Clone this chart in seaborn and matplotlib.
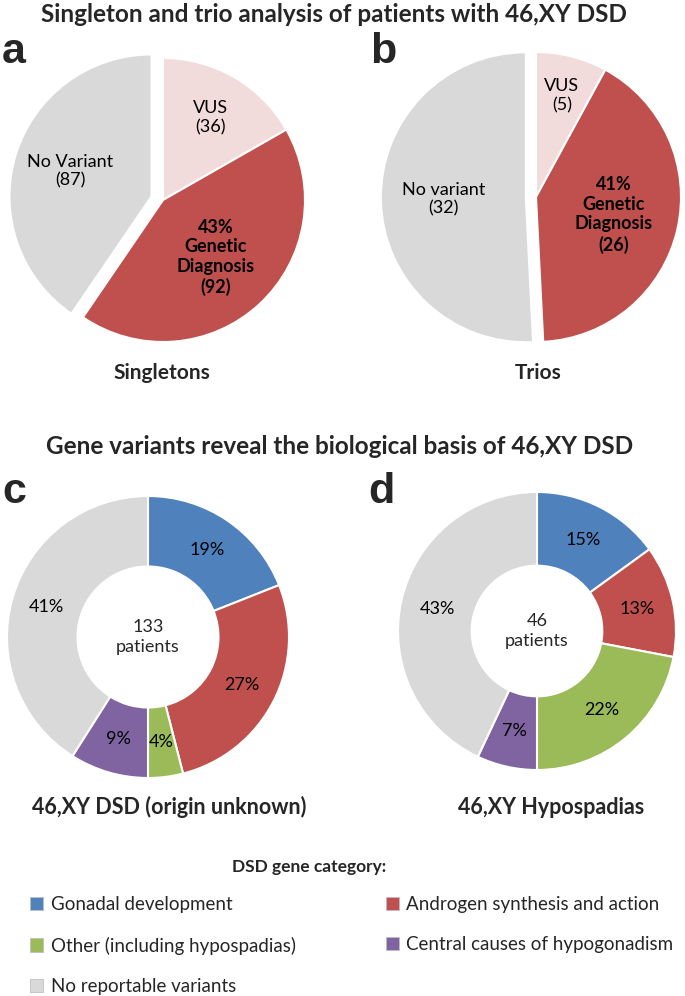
import numpy as np
import matplotlib
matplotlib.use("Agg")
import matplotlib.pyplot as plt
from matplotlib.patches import Patch
import seaborn as sns

# ─── Data ────────────────────────────────────────────────────────────────────
outcome_labels = ["VUS", "Genetic Diagnosis", "No Variant"]
singleton_counts = [36, 92, 87]
trio_counts = [5, 26, 32]

gene_categories = [
    "Gonadal development",
    "Androgen synthesis and action",
    "Other (including hypospadias)",
    "Central causes of hypogonadism",
    "No reportable variants",
]
unknown_pct = [19, 27, 4, 9, 41]
hypospadias_pct = [15, 13, 22, 7, 43]
unknown_n = 133
hypospadias_n = 46

# ─── Style ───────────────────────────────────────────────────────────────────
W, H = 685, 996
sns.set_theme(style="white")
plt.rcParams["font.family"] = ["Lato", "DejaVu Sans"]

outcome_colors = ["#F2DCDB", "#C0504D", "#D9D9D9"]
gene_colors = ["#4F81BD", "#C0504D", "#9BBB59", "#8064A2", "#D9D9D9"]

fig = plt.figure(figsize=(W / 100, H / 100), dpi=100)

K = 1.3  # axes half-size relative to pie radius


def px_axes(cx, cy, r):
    """Axes centred on pixel (cx, cy) where the pie radius is r px."""
    ax = fig.add_axes([(cx - r * K) / W, (H - cy - r * K) / H,
                       2 * r * K / W, 2 * r * K / H])
    return ax


def fig_text(x, y, s, **kw):
    fig.text(x / W, 1 - y / H, s, ha="center", va="center", **kw)


def draw_outcome_pie(ax, counts, explode, dists, no_variant_name):
    total = sum(counts)
    wedges, _ = ax.pie(counts, colors=outcome_colors, startangle=90,
                       counterclock=False, explode=explode,
                       wedgeprops=dict(edgecolor="white", linewidth=1.5))
    ax.set_xlim(-K, K)
    ax.set_ylim(-K, K)
    ax.set_aspect("auto")
    pct = round(counts[1] / total * 100)
    texts = [f"VUS\n({counts[0]})",
             f"{pct}%\nGenetic\nDiagnosis\n({counts[1]})",
             f"{no_variant_name}\n({counts[2]})"]
    weights = ["normal", "bold", "normal"]
    for w, t, d, fw in zip(wedges, texts, dists, weights):
        ang = np.deg2rad((w.theta1 + w.theta2) / 2)
        x = w.center[0] + d * np.cos(ang)
        y = w.center[1] + d * np.sin(ang)
        ax.text(x, y, t, ha="center", va="center", fontsize=13,
                fontweight=fw, linespacing=1.2, color="black")


def draw_donut(ax, values, n, hole):
    ax.pie(values, colors=gene_colors, startangle=90, counterclock=False,
           autopct=lambda p: f"{p:.0f}%", pctdistance=(1 + hole) / 2,
           textprops=dict(fontsize=13, color="black"),
           wedgeprops=dict(width=1 - hole, edgecolor="white", linewidth=1.5))
    ax.set_xlim(-K, K)
    ax.set_ylim(-K, K)
    ax.set_aspect("auto")
    ax.text(0, 0, f"{n}\npatients", ha="center", va="center",
            fontsize=13, linespacing=1.3)


# ─── Panels a / b ────────────────────────────────────────────────────────────
ax_a = px_axes(163, 200, 142)
draw_outcome_pie(ax_a, singleton_counts, [0, 0, 0.085], [0.67, 0.55, 0.6], "No Variant")
ax_b = px_axes(536, 197, 145)
draw_outcome_pie(ax_b, trio_counts, [0, 0, 0.07], [0.72, 0.55, 0.57], "No variant")

# ─── Panels c / d ────────────────────────────────────────────────────────────
ax_c = px_axes(148, 637, 141)
draw_donut(ax_c, unknown_pct, unknown_n, 0.5)
ax_d = px_axes(537, 631, 139)
draw_donut(ax_d, hypospadias_pct, hypospadias_n, 0.47)

# ─── Titles and labels ───────────────────────────────────────────────────────
fig_text(334, 14, "Singleton and trio analysis of patients with 46,XY DSD",
         fontsize=17.5, fontweight="bold")
fig_text(340, 446, "Gene variants reveal the biological basis of 46,XY DSD",
         fontsize=17.5, fontweight="bold")
fig_text(162, 373, "Singletons", fontsize=15, fontweight="bold")
fig_text(538, 373, "Trios", fontsize=15, fontweight="bold")
fig_text(169, 807, "46,XY DSD (origin unknown)", fontsize=15.5, fontweight="bold")
fig_text(551, 807, "46,XY Hypospadias", fontsize=15.5, fontweight="bold")

for letter, x, y in [("a", 2, 63), ("b", 370, 63), ("c", 2, 503), ("d", 368, 503)]:
    fig.text(x / W, 1 - y / H, letter, ha="left", va="baseline",
             fontsize=31, fontweight="bold", family="Liberation Sans")

# ─── Legend ──────────────────────────────────────────────────────────────────
fig_text(309, 867, "DSD gene category:", fontsize=12.5, fontweight="bold")
handles = [Patch(facecolor=c, edgecolor="#BFBFBF", linewidth=0.6) for c in gene_colors]
order = [0, 2, 4, 1, 3]
fig.legend([handles[i] for i in order], [gene_categories[i] for i in order],
           ncols=2, loc="upper left", bbox_to_anchor=(30 / W, 1 - 896 / H),
           frameon=False, fontsize=13.5, handlelength=0.7, handleheight=0.7,
           handletextpad=0.4, labelspacing=1.25, columnspacing=4.8,
           borderaxespad=0, borderpad=0)

fig.savefig("out.png", dpi=100)
